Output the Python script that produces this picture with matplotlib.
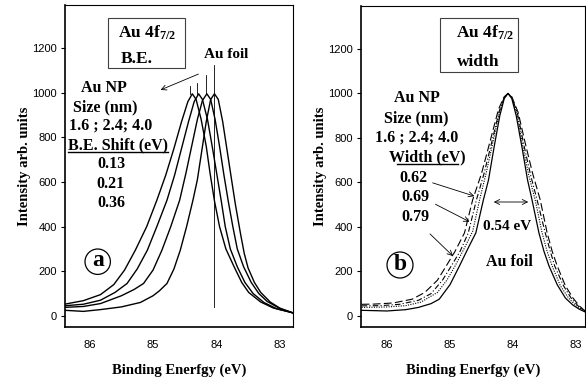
import matplotlib
matplotlib.use("Agg")
import matplotlib.pyplot as plt
from matplotlib.patches import Rectangle, Ellipse, FancyArrowPatch
from matplotlib.lines import Line2D

plt.rcParams['mathtext.fontset'] = 'custom'
plt.rcParams['mathtext.rm'] = 'Liberation Serif:bold'
plt.rcParams['mathtext.bf'] = 'Liberation Serif:bold'
plt.rcParams['mathtext.it'] = 'Liberation Serif:bold'

# ---------------- data: panel (a) B.E. shift ----------------
a_x = [86.4, 86.1, 85.83, 85.5, 85.2, 85.0, 84.9, 84.78, 84.67, 84.57, 84.47, 84.37, 84.30, 84.23, 84.16,
       84.09, 84.03, 83.97, 83.90, 83.83, 83.76, 83.70, 83.62, 83.56, 83.50, 83.40, 83.30, 83.15, 83.0, 82.8]
a_y = [25, 20, 28, 40, 60, 90, 112, 145, 210, 294, 400, 518, 610, 740, 870,
       970, 995, 970, 870, 740, 610, 500, 370, 280, 215, 150, 105, 62, 35, 14]

b_x = [86.4, 86.1, 85.83, 85.5, 85.3, 85.15, 85.0, 84.86, 84.72, 84.58, 84.48, 84.39, 84.30, 84.22,
       84.15, 84.09, 84.02, 83.95, 83.88, 83.81, 83.74, 83.67, 83.57, 83.45, 83.33, 83.2, 83.0, 82.8]
b_y = [38, 42, 55, 90, 118, 145, 205, 294, 400, 518, 640, 760, 880, 965,
       995, 970, 880, 760, 630, 510, 400, 300, 220, 150, 100, 65, 33, 14]

c_x = [86.4, 86.1, 85.83, 85.6, 85.41, 85.25, 85.09, 84.94, 84.78, 84.66, 84.55, 84.44, 84.35,
       84.28, 84.22, 84.14, 84.06, 83.99, 83.92, 83.86, 83.78, 83.67, 83.55, 83.42, 83.25, 83.05, 82.8]
c_y = [45, 52, 70, 105, 145, 210, 294, 400, 518, 630, 750, 870, 960,
       995, 970, 880, 750, 630, 510, 400, 300, 220, 150, 100, 60, 32, 14]

d_x = [86.4, 86.1, 85.83, 85.62, 85.45, 85.28, 85.1, 84.94, 84.80, 84.67, 84.55, 84.45,
       84.38, 84.32, 84.24, 84.16, 84.10, 84.03, 83.95, 83.85, 83.72, 83.60, 83.49, 83.3, 83.1, 82.8]
d_y = [52, 68, 95, 140, 205, 294, 400, 518, 630, 750, 870, 960,
       995, 970, 880, 760, 640, 515, 400, 300, 220, 150, 105, 62, 35, 14]

# peak marker lines (x position, bottom, top)
mark_x = [84.03, 84.17, 84.30, 84.41]
mark_top = [1122, 1080, 1045, 1032]
mark_bottom = [40, 995, 995, 995]

# ---------------- data: panel (b) width ----------------
foil_x = [86.4, 86.0, 85.7, 85.5, 85.3, 85.17, 85.0, 84.85, 84.72, 84.59, 84.47, 84.39, 84.30, 84.21, 84.14,
          84.08, 84.02, 83.95, 83.86, 83.77, 83.70, 83.59, 83.51, 83.43, 83.3, 83.17, 83.05, 82.95, 82.86]
foil_y = [25, 22, 28, 38, 55, 75, 140, 224, 300, 373, 522, 610, 760, 900, 977,
          1000, 977, 900, 760, 610, 522, 373, 290, 224, 140, 80, 48, 30, 18]

dot_x = [86.4, 86.0, 85.7, 85.46, 85.2, 85.05, 84.92, 84.78, 84.64, 84.53, 84.42, 84.32, 84.22, 84.14,
         84.08, 84.02, 83.94, 83.85, 83.75, 83.65, 83.54, 83.46, 83.38, 83.25, 83.12, 83.0, 82.86]
dot_y = [38, 40, 46, 62, 105, 160, 224, 300, 380, 522, 650, 780, 910, 980,
         1000, 980, 910, 770, 630, 522, 373, 290, 224, 135, 80, 45, 20]

dd_x = [86.4, 86.1, 85.8, 85.5, 85.3, 85.12, 84.98, 84.84, 84.71, 84.58, 84.46, 84.33, 84.22, 84.14,
        84.08, 84.02, 83.93, 83.83, 83.72, 83.62, 83.49, 83.41, 83.34, 83.2, 83.08, 82.97, 82.86]
dd_y = [45, 46, 52, 70, 100, 160, 224, 290, 373, 522, 640, 790, 920, 982,
        1000, 982, 910, 770, 630, 522, 373, 290, 224, 135, 80, 45, 22]

dash_x = [86.4, 86.2, 85.9, 85.6, 85.4, 85.2, 85.06, 84.92, 84.77, 84.64, 84.50, 84.35, 84.23, 84.14,
          84.08, 84.02, 83.92, 83.81, 83.69, 83.57, 83.46, 83.38, 83.30, 83.17, 83.05, 82.95, 82.86]
dash_y = [52, 53, 58, 75, 105, 160, 224, 290, 373, 522, 640, 800, 930, 985,
          1000, 985, 915, 780, 640, 522, 373, 290, 224, 135, 80, 45, 22]

yticks = [0, 200, 400, 600, 800, 1000, 1200]
xticks = [86, 85, 84, 83]

W, H = 586, 383
SERIF = 'Liberation Serif'


def fx(px):
    return px / W


def fy(py):
    return 1 - py / H


fig = plt.figure(figsize=(5.86, 3.83), dpi=100)
ax1 = fig.add_axes([fx(65), fy(327), (293 - 65) / W, (327 - 5) / H])
ax2 = fig.add_axes([fx(361), fy(327), (585 - 361) / W, (327 - 6) / H])

for x, y in [(a_x, a_y), (b_x, b_y), (c_x, c_y), (d_x, d_y)]:
    ax1.plot(x, y, color='black', lw=1.0)
for mx, mt, mb in zip(mark_x, mark_top, mark_bottom):
    ax1.plot([mx, mx], [mb, mt], color='black', lw=0.6)

ax2.plot(foil_x, foil_y, color='black', lw=0.9, ls='-')
ax2.plot(dot_x, dot_y, color='black', lw=0.8, ls=(0, (1, 1.2)))
ax2.plot(dd_x, dd_y, color='black', lw=0.8, ls=(0, (5, 2, 1, 2)))
ax2.plot(dash_x, dash_y, color='black', lw=0.8, ls=(0, (7, 3)))

for ax, xl in [(ax1, (86.39, 82.79)), (ax2, (86.41, 82.86))]:
    ax.set_xlim(*xl)
    ax.set_ylim(-50, 1393)
    ax.set_xticks(xticks)
    ax.set_xticklabels([str(t) for t in xticks])
    ax.set_yticks(yticks)
    ax.set_yticklabels([str(t) for t in yticks])
    ax.tick_params(axis='x', length=0, pad=9, labelsize=8)
    ax.tick_params(axis='y', length=3, width=0.8, direction='out', pad=3, labelsize=8)
    for lab in ax.get_xticklabels() + ax.get_yticklabels():
        lab.set_family('Liberation Sans')
    ax.spines['left'].set_linewidth(1.2)
    ax.spines['bottom'].set_linewidth(1.2)
    ax.spines['top'].set_linewidth(0.8)
    ax.spines['right'].set_linewidth(0.8)
    ax.set_xlabel('Binding Enerfgy (eV)', family=SERIF, fontweight='bold', fontsize=10.5, labelpad=10)
    ax.set_ylabel('Intensity arb. units', family=SERIF, fontweight='bold', fontsize=10.5, labelpad=1)


def T(x, y, s, size=11.5, **kw):
    fig.text(fx(x), fy(y), s, ha='center', va='center', family=SERIF, fontweight='bold', fontsize=size, **kw)


def box(x0, y0, x1, y1):
    fig.add_artist(Rectangle((fx(x0), fy(y1)), (x1 - x0) / W, (y1 - y0) / H, transform=fig.transFigure,
                             fill=False, lw=0.8, edgecolor='0.25'))


def circ(x, y, r, letter):
    fig.add_artist(Ellipse((fx(x), fy(y)), 2 * r / W, 2 * r / H, transform=fig.transFigure,
                           fill=False, lw=0.9, edgecolor='black'))
    T(x, y - 1, letter, size=17)


def arrow(x0, y0, x1, y1, style='->'):
    fig.add_artist(FancyArrowPatch((fx(x0), fy(y0)), (fx(x1), fy(y1)), transform=fig.transFigure,
                                   arrowstyle=style, mutation_scale=9, lw=0.6, color='black'))


def hline(x0, x1, y, lw=1.0):
    fig.add_artist(Line2D([fx(x0), fx(x1)], [fy(y), fy(y)], transform=fig.transFigure, color='black', lw=lw))


# ----- panel a annotations -----
box(108, 18, 185, 68)
T(147, 33, r'Au 4f$_{7/2}$', size=12.5)
T(137, 59, 'B.E.', size=12.5)
T(226, 55, 'Au foil', size=11)
arrow(201, 73, 158, 91)
T(104, 88, 'Au NP')
T(105, 107, 'Size (nm)')
T(111, 126, '1.6 ; 2.4; 4.0')
T(118, 145, 'B.E. Shift (eV)')
hline(68, 168, 152)
T(111, 164, '0.13')
T(111, 184, '0.21')
T(111, 203, '0.36')
circ(97.7, 261.7, 12.7, 'a')

# ----- panel b annotations -----
box(440, 18, 518, 72)
T(485, 33, r'Au 4f$_{7/2}$', size=12.5)
T(478, 62, 'width', size=12.5)
T(417, 98, 'Au NP')
T(416, 118, 'Size (nm)')
T(417, 138, '1.6 ; 2.4; 4.0')
T(427, 157, 'Width (eV)')
hline(397, 458, 164)
T(413, 178, '0.62')
T(415, 197, '0.69')
T(415, 217, '0.79')
arrow(430, 182, 477, 197)
arrow(433, 203, 472, 223)
arrow(428, 232, 455, 258)
arrow(491, 202, 531, 202, style='<->')
T(507, 227, '0.54 eV', size=11)
T(509, 262, 'Au foil', size=11.5)
circ(400, 265, 13, 'b')

fig.savefig('out.png', dpi=100)
